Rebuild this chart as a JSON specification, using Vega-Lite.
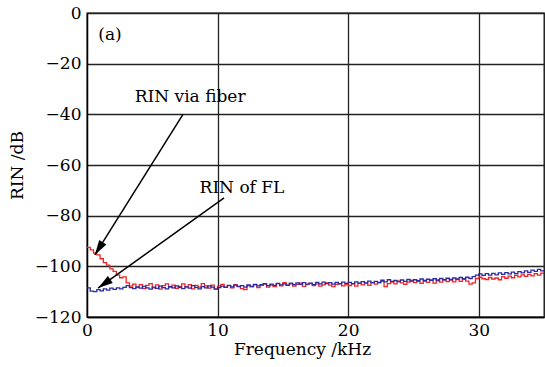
{
"$schema":"https://vega.github.io/schema/vega-lite/v6.json",
"width":457,"height":304,
"autosize":{"type":"none"},
"padding":{"left":87,"top":13,"right":1,"bottom":50},
"background":"white",
"config":{"view":{"stroke":"black","strokeWidth":1.3},"font":"DejaVu Serif",
"axis":{"grid":true,"gridColor":"#222222","gridWidth":1.3,"gridOpacity":1,"domainColor":"black","domainWidth":1.3,"ticks":false,"labelFont":"DejaVu Serif","labelFontSize":17,"labelColor":"black","titleFont":"DejaVu Serif","titleFontSize":17,"titleFontWeight":"normal","titleColor":"black"}},
"datasets":{
"rin":[
{"f":0,"fiber":-92.5,"fl":-108.5},{"f":0.25,"fiber":-93.5,"fl":-109.8},{"f":0.5,"fiber":-94.8,"fl":-110},{"f":0.75,"fiber":-95.5,"fl":-109.2},
{"f":1,"fiber":-97,"fl":-109.7},{"f":1.25,"fiber":-98.5,"fl":-108.9},{"f":1.5,"fiber":-99.5,"fl":-109.4},{"f":1.75,"fiber":-101,"fl":-108.6},
{"f":2,"fiber":-102,"fl":-109.1},{"f":2.25,"fiber":-103.5,"fl":-108.5},{"f":2.5,"fiber":-104.5,"fl":-108.9},{"f":2.75,"fiber":-104.2,"fl":-108.3},
{"f":3,"fiber":-106.5,"fl":-107.6},{"f":3.25,"fiber":-107.8,"fl":-108.4},{"f":3.5,"fiber":-107,"fl":-108.8},{"f":3.75,"fiber":-108.3,"fl":-108.1},
{"f":4,"fiber":-107.2,"fl":-108.6},{"f":4.25,"fiber":-108.8,"fl":-107.9},{"f":4.5,"fiber":-107.5,"fl":-108.5},{"f":4.75,"fiber":-106.8,"fl":-109},
{"f":5,"fiber":-108.5,"fl":-108.2},{"f":5.25,"fiber":-107.3,"fl":-108.7},{"f":5.5,"fiber":-109,"fl":-107.8},{"f":5.75,"fiber":-107.6,"fl":-108.4},
{"f":6,"fiber":-106.9,"fl":-108.9},{"f":6.25,"fiber":-108.2,"fl":-108},{"f":6.5,"fiber":-107.4,"fl":-108.5},{"f":6.75,"fiber":-108.7,"fl":-107.7},
{"f":7,"fiber":-107.9,"fl":-108.3},{"f":7.25,"fiber":-106.9,"fl":-108.8},{"f":7.5,"fiber":-108.1,"fl":-108.1},{"f":7.75,"fiber":-107.2,"fl":-108.6},
{"f":8,"fiber":-108.9,"fl":-107.6},{"f":8.25,"fiber":-107.5,"fl":-108.3},{"f":8.5,"fiber":-108.2,"fl":-108.9},{"f":8.75,"fiber":-106.8,"fl":-108},
{"f":9,"fiber":-107.7,"fl":-108.5},{"f":9.25,"fiber":-108.6,"fl":-107.7},{"f":9.5,"fiber":-107.4,"fl":-108.2},{"f":9.75,"fiber":-108.9,"fl":-109},
{"f":10,"fiber":-107.8,"fl":-108.4},{"f":10.25,"fiber":-107.1,"fl":-107.8},{"f":10.5,"fiber":-108.3,"fl":-108.3},{"f":10.75,"fiber":-107.6,"fl":-107.5},
{"f":11,"fiber":-108.5,"fl":-108.1},{"f":11.25,"fiber":-107.2,"fl":-107.4},{"f":11.5,"fiber":-107.9,"fl":-108},{"f":11.75,"fiber":-108.8,"fl":-107.6},
{"f":12,"fiber":-109.2,"fl":-108.2},{"f":12.25,"fiber":-107.6,"fl":-107.3},{"f":12.5,"fiber":-108.1,"fl":-107.9},{"f":12.75,"fiber":-107.3,"fl":-107.1},
{"f":13,"fiber":-108.4,"fl":-107.7},{"f":13.25,"fiber":-107.5,"fl":-107.2},{"f":13.5,"fiber":-107,"fl":-106.8},{"f":13.75,"fiber":-108.2,"fl":-107.6},
{"f":14,"fiber":-107.4,"fl":-107},{"f":14.25,"fiber":-108,"fl":-107.5},{"f":14.5,"fiber":-106.8,"fl":-106.7},{"f":14.75,"fiber":-107.7,"fl":-107.3},
{"f":15,"fiber":-106.4,"fl":-106.9},{"f":15.25,"fiber":-107.5,"fl":-107.4},{"f":15.5,"fiber":-106.9,"fl":-106.6},{"f":15.75,"fiber":-107.8,"fl":-107.2},
{"f":16,"fiber":-107.1,"fl":-106.5},{"f":16.25,"fiber":-106.6,"fl":-107.1},{"f":16.5,"fiber":-107.9,"fl":-106.4},{"f":16.75,"fiber":-107.2,"fl":-107},
{"f":17,"fiber":-106.7,"fl":-106.6},{"f":17.25,"fiber":-107.6,"fl":-107.2},{"f":17.5,"fiber":-106.9,"fl":-106.3},{"f":17.75,"fiber":-107.8,"fl":-106.9},
{"f":18,"fiber":-107.3,"fl":-106.2},{"f":18.25,"fiber":-106.5,"fl":-106.8},{"f":18.5,"fiber":-107.4,"fl":-106.4},{"f":18.75,"fiber":-108,"fl":-107},
{"f":19,"fiber":-107.1,"fl":-106.3},{"f":19.25,"fiber":-106.8,"fl":-106.9},{"f":19.5,"fiber":-107.7,"fl":-106.2},{"f":19.75,"fiber":-107.2,"fl":-106.7},
{"f":20,"fiber":-107.6,"fl":-106.3},{"f":20.25,"fiber":-106.9,"fl":-106.8},{"f":20.5,"fiber":-107.8,"fl":-106.1},{"f":20.75,"fiber":-106.7,"fl":-106.6},
{"f":21,"fiber":-107.3,"fl":-106},{"f":21.25,"fiber":-106.6,"fl":-106.5},{"f":21.5,"fiber":-107.5,"fl":-105.8},{"f":21.75,"fiber":-106.4,"fl":-106.4},
{"f":22,"fiber":-107,"fl":-105.9},{"f":22.25,"fiber":-106.5,"fl":-106.3},{"f":22.5,"fiber":-105.9,"fl":-105.5},{"f":22.75,"fiber":-108,"fl":-106.1},
{"f":23,"fiber":-106.8,"fl":-105.3},{"f":23.25,"fiber":-106.2,"fl":-105.9},{"f":23.5,"fiber":-106.9,"fl":-105.6},{"f":23.75,"fiber":-105.8,"fl":-106},
{"f":24,"fiber":-106.5,"fl":-105.4},{"f":24.25,"fiber":-107.1,"fl":-105.9},{"f":24.5,"fiber":-106.2,"fl":-105.2},{"f":24.75,"fiber":-105.6,"fl":-105.8},
{"f":25,"fiber":-106.4,"fl":-105.3},{"f":25.25,"fiber":-105.9,"fl":-105.7},{"f":25.5,"fiber":-106.7,"fl":-105},{"f":25.75,"fiber":-105.8,"fl":-105.6},
{"f":26,"fiber":-106.3,"fl":-105.1},{"f":26.25,"fiber":-105.5,"fl":-105.5},{"f":26.5,"fiber":-106.6,"fl":-104.9},{"f":26.75,"fiber":-105.7,"fl":-105.4},
{"f":27,"fiber":-106.2,"fl":-104.8},{"f":27.25,"fiber":-105.3,"fl":-105.3},{"f":27.5,"fiber":-106,"fl":-104.7},{"f":27.75,"fiber":-105.4,"fl":-105.2},
{"f":28,"fiber":-106.1,"fl":-104.6},{"f":28.25,"fiber":-105.2,"fl":-105},{"f":28.5,"fiber":-105.9,"fl":-104.4},{"f":28.75,"fiber":-105.1,"fl":-104.9},
{"f":29,"fiber":-105.8,"fl":-104.3},{"f":29.25,"fiber":-107,"fl":-104.8},{"f":29.5,"fiber":-106.5,"fl":-104.1},{"f":29.75,"fiber":-104.8,"fl":-103.5},
{"f":30,"fiber":-104.3,"fl":-103},{"f":30.25,"fiber":-104.9,"fl":-103.6},{"f":30.5,"fiber":-105.2,"fl":-102.9},{"f":30.75,"fiber":-104.4,"fl":-103.5},
{"f":31,"fiber":-105,"fl":-102.8},{"f":31.25,"fiber":-104.6,"fl":-103.4},{"f":31.5,"fiber":-105.3,"fl":-102.6},{"f":31.75,"fiber":-104.1,"fl":-103.2},
{"f":32,"fiber":-104.7,"fl":-102.5},{"f":32.25,"fiber":-103.9,"fl":-103},{"f":32.5,"fiber":-104.5,"fl":-102.3},{"f":32.75,"fiber":-103.6,"fl":-102.9},
{"f":33,"fiber":-104.2,"fl":-102.1},{"f":33.25,"fiber":-103.4,"fl":-102.6},{"f":33.5,"fiber":-104,"fl":-101.8},{"f":33.75,"fiber":-103.2,"fl":-102.4},
{"f":34,"fiber":-103.8,"fl":-101.5},{"f":34.25,"fiber":-102.9,"fl":-102},{"f":34.5,"fiber":-103.5,"fl":-101.2},{"f":34.75,"fiber":-102.7,"fl":-101.8},
{"f":35,"fiber":-103.3,"fl":-101.4}
],
"arrows":[{"id":"a","x1":7.35,"y1":-40,"x2":0.6,"y2":-95.5},{"id":"b","x1":10.5,"y1":-73,"x2":0.85,"y2":-108.6}],
"labels":[{"x":7.9,"y":-33.2,"t":"RIN via fiber"},{"x":11.87,"y":-69.1,"t":"RIN of FL"},{"x":1.76,"y":-8.7,"t":"(a)"}]
},
"layer":[
{"data":{"name":"rin"},"transform":[{"fold":["fiber","fl"],"as":["s","v"]}],
"mark":{"type":"line","interpolate":"step-after","strokeWidth":1.3,"clip":true},
"encoding":{
"x":{"field":"f","type":"quantitative","scale":{"domain":[0,35],"nice":false},"axis":{"values":[0,10,20,30],"title":"Frequency /kHz","labelPadding":5,"titlePadding":3,"titleX":215,"labelFlush":false}},
"y":{"field":"v","type":"quantitative","scale":{"domain":[-120,0],"nice":false},"axis":{"values":[-120,-100,-80,-60,-40,-20,0],"title":"RIN /dB","labelPadding":6,"titlePadding":8}},
"color":{"field":"s","type":"nominal","scale":{"domain":["fiber","fl"],"range":["#f02424","#2b2ba3"]},"legend":null}}},
{"data":{"name":"arrows"},"mark":{"type":"rule","color":"black","strokeWidth":1.5},
"encoding":{"x":{"field":"x1","type":"quantitative"},"y":{"field":"y1","type":"quantitative"},"x2":{"field":"x2"},"y2":{"field":"y2"}}},
{"data":{"name":"arrows"},"transform":[{"filter":"datum.id==='a'"}],"mark":{"type":"point","filled":true,"color":"black","opacity":1,"shape":"M0,0L-0.28,1L0.28,1Z","size":900,"angle":212},
"encoding":{"x":{"field":"x2","type":"quantitative"},"y":{"field":"y2","type":"quantitative"}}},
{"data":{"name":"arrows"},"transform":[{"filter":"datum.id==='b'"}],"mark":{"type":"point","filled":true,"color":"black","opacity":1,"shape":"M0,0L-0.28,1L0.28,1Z","size":900,"angle":234.7},
"encoding":{"x":{"field":"x2","type":"quantitative"},"y":{"field":"y2","type":"quantitative"}}},
{"data":{"name":"labels"},"mark":{"type":"text","font":"DejaVu Serif","fontSize":17,"color":"black","align":"center","baseline":"middle"},
"encoding":{"x":{"field":"x","type":"quantitative"},"y":{"field":"y","type":"quantitative"},"text":{"field":"t"}}}
]
}
